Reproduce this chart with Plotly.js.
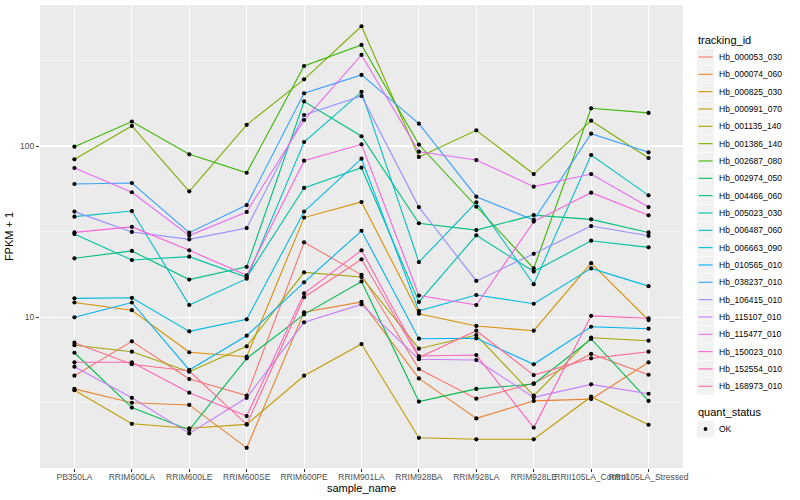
<!DOCTYPE html>
<html>
<head>
<meta charset="utf-8">
<script src="https://cdn.plot.ly/plotly-3.0.1.min.js"></script>
<style>html,body{margin:0;padding:0;background:#fff;}#chart{width:800px;height:500px;}</style>
</head>
<body>
<div id="chart"></div>
<script>
const samples = ['PB350LA','RRIM600LA','RRIM600LE','RRIM600SE','RRIM600PE','RRIM901LA','RRIM928BA','RRIM928LA','RRIM928LE','RRII105LA_Control','RRII105LA_Stressed'];

const trackingIds = ['Hb_000053_030','Hb_000074_060','Hb_000825_030','Hb_000991_070','Hb_001135_140','Hb_001386_140','Hb_002687_080','Hb_002974_050','Hb_004466_060','Hb_005023_030','Hb_006487_060','Hb_006663_090','Hb_010565_010','Hb_038237_010','Hb_106415_010','Hb_115107_010','Hb_115477_010','Hb_150023_010','Hb_152554_010','Hb_168973_010'];

const colors = ['#F8766D','#EA8331','#D89000','#C09B00','#A3A500','#7CAE00','#39B600','#00BB4E','#00BF7D','#00C1A3','#00BFC4','#00BAE0','#00B0F6','#35A2FF','#9590FF','#C77CFF','#E76BF3','#FA62DB','#FF62BC','#FF6C91'];

// FPKM + 1 values, one per sample
const hb_000053_030 = [4.56, 7.24, 4.36, 3.49, 27.4, 17.7, 4.99, 3.35, 4.12, 6.11, 4.62];
const hb_000074_060 = [3.82, 3.17, 3.08, 1.73, 10.7, 12.3, 4.40, 2.57, 3.25, 3.33, 5.46];
const hb_000825_030 = [12.2, 11.0, 6.25, 5.89, 38.2, 47.1, 10.5, 8.90, 8.35, 20.7, 9.64];
const hb_000991_070 = [3.75, 2.39, 2.25, 2.37, 4.56, 6.98, 1.98, 1.94, 1.94, 3.44, 2.36];
const hb_001135_140 = [6.87, 6.30, 4.81, 6.77, 18.3, 17.2, 6.56, 7.88, 3.49, 7.60, 7.30];
const hb_001386_140 = [83.6, 130.9, 54.4, 133, 245, 500, 86.3, 123.5, 68.6, 140.5, 85.1];
const hb_002687_080 = [99.1, 139, 89.4, 69.8, 293, 389, 102, 44.2, 19.3, 166, 156];
const hb_002974_050 = [6.21, 2.97, 2.20, 5.76, 10.4, 16.2, 3.22, 3.82, 4.08, 7.47, 3.25];
const hb_004466_060 = [22.1, 24.4, 16.6, 19.7, 182, 114, 35.4, 32.3, 39.5, 37.3, 31.3];
const hb_005023_030 = [30.6, 21.6, 22.6, 17.1, 56.9, 74.7, 12.3, 30.1, 18.5, 28.0, 25.6];
const hb_006487_060 = [38.7, 41.7, 11.8, 16.8, 105.5, 207, 21.0, 46.9, 15.6, 88.6, 51.5];
const hb_006663_090 = [12.9, 13.0, 8.28, 9.73, 41.4, 84.3, 10.9, 13.5, 12.0, 19.3, 15.2];
const hb_010565_010 = [10.0, 12.2, 4.93, 7.81, 16.0, 32.0, 7.50, 7.54, 5.32, 8.81, 8.58];
const hb_038237_010 = [60.0, 60.8, 31.2, 45.2, 203, 260, 135, 50.6, 37.0, 118, 91.9];
const hb_106415_010 = [41.4, 31.5, 28.5, 33.2, 151.7, 195.8, 44.0, 16.3, 23.5, 34.1, 29.9];
const hb_115107_010 = [5.15, 3.39, 2.10, 3.39, 9.35, 11.9, 5.69, 5.63, 3.41, 4.06, 3.58];
const hb_115477_010 = [74.4, 53.7, 30.0, 41.2, 141.8, 340, 92.6, 82.8, 57.9, 68.6, 44.0];
const hb_150023_010 = [31.3, 33.7, 24.6, 17.6, 82.1, 102.3, 13.4, 11.8, 36.2, 53.4, 39.4];
const hb_152554_010 = [5.46, 5.46, 3.63, 2.65, 13.8, 24.6, 5.94, 6.02, 2.27, 10.2, 9.87];
const hb_168973_010 = [7.11, 5.32, 4.86, 2.37, 13.1, 21.8, 5.82, 8.35, 4.60, 5.76, 6.30];

const seriesValues = [hb_000053_030, hb_000074_060, hb_000825_030, hb_000991_070, hb_001135_140, hb_001386_140, hb_002687_080, hb_002974_050, hb_004466_060, hb_005023_030, hb_006487_060, hb_006663_090, hb_010565_010, hb_038237_010, hb_106415_010, hb_115107_010, hb_115477_010, hb_150023_010, hb_152554_010, hb_168973_010];

const quantStatus = ['OK'];
const yTickVals = [10, 100];
const yTickText = ['10', '100'];
const yMinorVals = [3.1623, 31.623, 316.23];

const traces = [];
seriesValues.forEach((vals, i) => {
  traces.push({
    type: 'scatter', mode: 'lines', x: samples, y: vals,
    name: trackingIds[i], showlegend: false,
    line: {color: colors[i], width: 1.1},
    hoverinfo: 'skip'
  });
});
const allX = [], allY = [];
seriesValues.forEach(vals => { vals.forEach((v, j) => { allX.push(samples[j]); allY.push(v); }); });
traces.push({
  type: 'scatter', mode: 'markers', x: allX, y: allY,
  name: quantStatus[0], showlegend: false,
  marker: {color: '#000000', size: 4.2, symbol: 'circle'}
});

// ---- legend drawn as shapes + annotations (ggplot style keys) ----
const plotL = 40, plotR = 683, plotT = 5, plotB = 468;
const px2x = px => (px - plotL) / (plotR - plotL);
const py2y = py => (plotB - py) / (plotB - plotT);
const legFont = {family: 'Liberation Sans, Arial, sans-serif', size: 8.5, color: '#000'};
const titleFont = {family: 'Liberation Sans, Arial, sans-serif', size: 11, color: '#000'};
const shapes = [], annotations = [];
const keyL = 697, keyR = 714, rowH = 17.33, row0 = 57;
annotations.push({xref: 'paper', yref: 'paper', x: px2x(696), y: py2y(40), xanchor: 'left', yanchor: 'middle', text: 'tracking_id', showarrow: false, font: titleFont});
trackingIds.forEach((id, i) => {
  const cy = row0 + i * rowH;
  shapes.push({type: 'rect', xref: 'paper', yref: 'paper', x0: px2x(keyL), x1: px2x(keyR), y0: py2y(cy - rowH / 2 + 0.3), y1: py2y(cy + rowH / 2 - 0.3), fillcolor: '#F2F2F2', line: {width: 0}, layer: 'above'});
  shapes.push({type: 'line', xref: 'paper', yref: 'paper', x0: px2x(keyL + 1.5), x1: px2x(keyR - 1.5), y0: py2y(cy), y1: py2y(cy), line: {color: colors[i], width: 1.1}, layer: 'above'});
  annotations.push({xref: 'paper', yref: 'paper', x: px2x(717), y: py2y(cy), xanchor: 'left', yanchor: 'middle', text: id, showarrow: false, font: legFont});
});
annotations.push({xref: 'paper', yref: 'paper', x: px2x(696), y: py2y(412), xanchor: 'left', yanchor: 'middle', text: 'quant_status', showarrow: false, font: titleFont});
const okY = 429;
shapes.push({type: 'rect', xref: 'paper', yref: 'paper', x0: px2x(keyL), x1: px2x(keyR), y0: py2y(okY - rowH / 2 + 0.3), y1: py2y(okY + rowH / 2 - 0.3), fillcolor: '#F2F2F2', line: {width: 0}, layer: 'above'});
shapes.push({type: 'circle', xref: 'paper', yref: 'paper', x0: px2x(703.6), x1: px2x(707.4), y0: py2y(okY - 1.9), y1: py2y(okY + 1.9), fillcolor: '#000', line: {width: 0}, layer: 'above'});
annotations.push({xref: 'paper', yref: 'paper', x: px2x(717), y: py2y(okY), xanchor: 'left', yanchor: 'middle', text: quantStatus[0], showarrow: false, font: legFont});

const axisFont = {family: 'Liberation Sans, Arial, sans-serif', size: 8.5, color: '#4d4d4d'};
const layout = {
  width: 800, height: 500,
  margin: {l: plotL, r: 800 - plotR, t: plotT, b: 500 - plotB},
  paper_bgcolor: '#ffffff',
  plot_bgcolor: '#EBEBEB',
  font: {family: 'Liberation Sans, Arial, sans-serif', size: 11, color: '#000'},
  showlegend: false,
  xaxis: {
    type: 'category', range: [-0.6, 10.6],
    showgrid: true, gridcolor: '#ffffff', gridwidth: 1.1,
    ticks: 'outside', ticklen: 3, tickcolor: '#333333', tickwidth: 1,
    ticklabelstandoff: -2,
    tickfont: axisFont, zeroline: false, showline: false,
    tickangle: 0,
    title: {text: 'sample_name', font: titleFont, standoff: 2}
  },
  yaxis: {
    type: 'log', range: [0.1203, 2.8231],
    tickmode: 'array', tickvals: yTickVals, ticktext: yTickText,
    showgrid: true, gridcolor: '#ffffff', gridwidth: 1.1,
    minor: {tickmode: 'array', tickvals: yMinorVals, showgrid: true, gridcolor: '#F5F5F5', gridwidth: 0.7, ticklen: 0},
    ticks: 'outside', ticklen: 3, tickcolor: '#333333', tickwidth: 1,
    tickfont: axisFont, zeroline: false, showline: false,
    title: {text: 'FPKM + 1', font: titleFont, standoff: 4}
  },
  shapes: shapes,
  annotations: annotations
};

Plotly.newPlot('chart', traces, layout, {displayModeBar: false, staticPlot: true});
</script>
</body>
</html>
